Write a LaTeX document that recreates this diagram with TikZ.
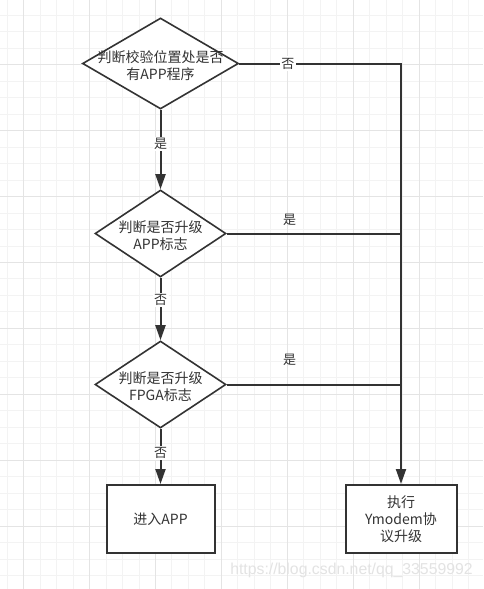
\documentclass[tikz,border=0pt]{standalone}
\usepackage{fontspec}
\setmainfont{Noto Sans CJK SC}
\newfontfamily\wmfont{Liberation Sans}
\usetikzlibrary{shapes.geometric,arrows.meta}
\definecolor{ln}{HTML}{333333}
\definecolor{gminor}{HTML}{F3F3F3}
\definecolor{gmajor}{HTML}{E4E4E4}
\begin{document}
\begin{tikzpicture}[x=1pt,y=-1pt,
  dec/.style={diamond, draw=ln, line width=1.6pt, fill=white, inner sep=0pt},
  dectext/.style={align=center, font=\fontsize{14}{17}\selectfont, text=ln, inner sep=0pt, yshift=-2pt},
  box/.style={rectangle, draw=ln, line width=2pt, fill=white, inner sep=0pt,
    align=center, font=\fontsize{14}{17}\selectfont, text=ln,
    minimum height=68pt},
  conn/.style={draw=ln, line width=2pt},
  arr/.style={conn, -{Triangle[width=10pt,length=15pt]}},
  lbl/.style={font=\fontsize{13}{15}\selectfont, text=ln, inner sep=1.5pt},
  lblbg/.style={lbl, fill=white},
]
\useasboundingbox (0,0) rectangle (483,589);
\fill[white] (0,0) rectangle (483,589);
% grid
\foreach \i in {0,...,29} \draw[gminor, line width=1pt] ({7.2+16.475*\i},0) -- ++(0,589);
\foreach \i in {1,...,36} \draw[gminor, line width=1pt] (0,{-1.1+16.475*\i}) -- ++(483,0);
\foreach \i in {0,...,7} \draw[gmajor, line width=1pt] ({23.7+65.9*\i},0) -- ++(0,589);
\foreach \i in {1,...,8} \draw[gmajor, line width=1pt] (0,{-1.1+65.9*\i}) -- ++(483,0);

% nodes
\node[dec, minimum width=156pt, minimum height=91pt] (d1) at (160.5,63.5) {};
\node[dectext] (t1) at (d1.center) {判断校验位置处是否\\有APP程序};
\node[dec, minimum width=131pt, minimum height=87pt] (d2) at (160.5,233.5) {};
\node[dectext] (t2) at (d2.center) {判断是否升级\\APP标志};
\node[dec, minimum width=131pt, minimum height=87pt] (d3) at (160.5,384.5) {};
\node[dectext] (t3) at (d3.center) {判断是否升级\\FPGA标志};
\node[box, minimum width=108pt] (b1) at (160.5,519) {进入APP};
\node[box, minimum width=111pt] (b2) at (401,519) {执行\\Ymodem协\\议升级};
\coordinate (c1) at (d1.east -| b2.north);

% connectors
\draw[arr] (d1.east) -- node[lblbg, pos=0.30] {否} (c1) -- (b2.north);
\draw[conn] (d2.east) -- node[lbl, pos=0.36, above=5pt] {是} (d2.east -| c1);
\draw[conn] (d3.east) -- node[lbl, pos=0.36, above=16pt] {是} (d3.east -| c1);
\draw[arr] (d1.south) -- node[lblbg, pos=0.43] {是} (d2.north);
\draw[arr] (d2.south) -- node[lblbg, pos=0.36] {否} (d3.north);
\draw[arr] (d3.south) -- node[lblbg, pos=0.44] {否} (b1.north);

% watermark
\node[font=\wmfont\fontsize{15.8}{18}\selectfont, text=gray!22, inner sep=0pt] (wm)
  at (351.5,570.5) {https://blog.csdn.net/qq\_33559992};
\end{tikzpicture}
\end{document}
